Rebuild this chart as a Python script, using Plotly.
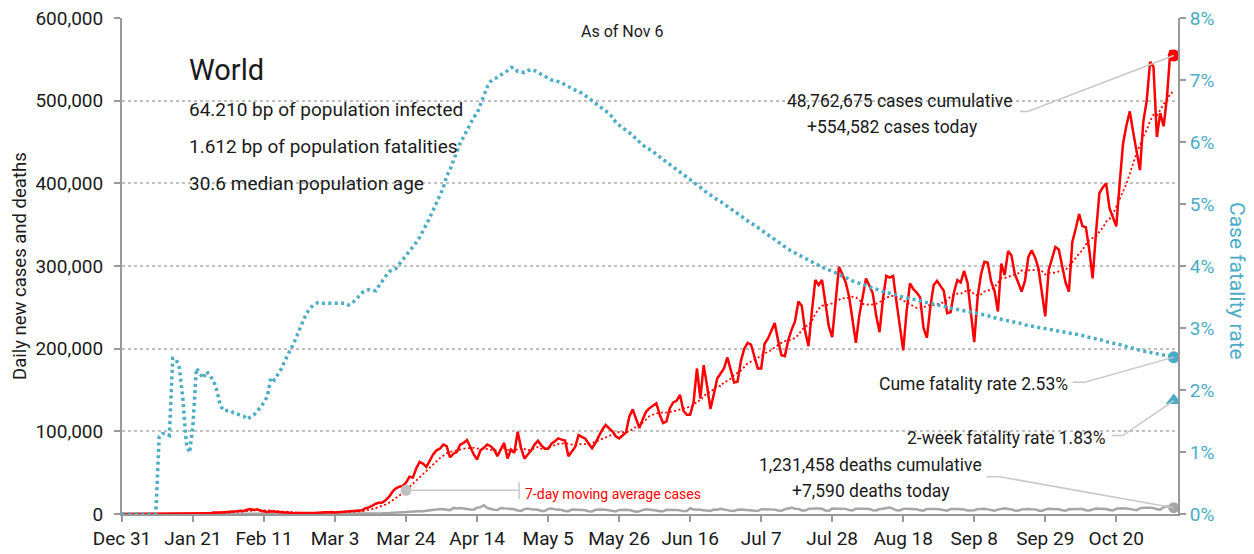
import pandas as pd
import plotly.graph_objects as go

# daily values, one entry per day starting Dec 31 2019 (7 per row = one week)
start_date = "2019-12-31"

new_cases = [
    0, 0, 0, 17, 0, 15, 0,
    0, 0, 0, 0, 1, 0, 1,
    17, 0, 4, 17, 136, 19, 151,
    140, 97, 259, 441, 665, 787, 1753,
    1466, 1740, 1980, 2102, 2590, 2829, 3235,
    3884, 3694, 5200, 6100, 4800, 5600, 3900,
    3600, 2500, 3300, 2800, 2100, 2000, 1900,
    1800, 1200, 800, 1100, 950, 1100, 1400,
    1100, 1300, 1700, 1900, 2000, 2000, 2400,
    1800, 2100, 2400, 2800, 2700, 3800, 3900,
    4100, 4500, 7000, 8000, 10000, 12500, 13500,
    14000, 17000, 21000, 27000, 31000, 33000, 34000,
    38000, 45000, 44000, 55000, 63000, 61000, 57000,
    64000, 72000, 77000, 79000, 84000, 82000, 68500,
    73000, 75000, 84000, 86000, 89500, 81000, 72000,
    66000, 77000, 80000, 84000, 82000, 78000, 70000,
    78000, 86000, 67000, 78000, 74000, 99500, 80000,
    67000, 72000, 77000, 84000, 88700, 83000, 79000,
    79000, 85000, 88000, 91500, 90000, 89000, 70000,
    75000, 81000, 95500, 93000, 91000, 85000, 79500,
    86000, 95000, 102000, 107700, 104000, 100000, 94000,
    91500, 95000, 98400, 117700, 126600, 115000, 104000,
    115000, 124000, 128000, 131000, 134000, 120000, 110000,
    112000, 128000, 135000, 137000, 144000, 125000, 120000,
    120000, 135000, 176000, 140000, 180000, 155000, 127000,
    145000, 164000, 170000, 176000, 189500, 175000, 159000,
    160000, 185000, 200000, 207000, 205000, 190000, 176000,
    176000, 206000, 212000, 222000, 231000, 210000, 192000,
    191000, 210000, 223000, 233000, 257000, 252000, 221000,
    203000, 245000, 283000, 277000, 283000, 255000, 227000,
    214000, 260000, 299000, 290000, 280000, 263000, 235000,
    207000, 240000, 265000, 285000, 276000, 267000, 240000,
    220000, 260000, 288000, 286000, 288000, 257000, 225000,
    198000, 245000, 279000, 272000, 268000, 262000, 225000,
    213000, 250000, 277000, 282000, 276000, 270000, 243000,
    244000, 268000, 283000, 280000, 294000, 280000, 245000,
    208000, 262000, 290000, 305000, 304000, 281000, 270000,
    245000, 303000, 289000, 318000, 313000, 290000, 280000,
    269000, 282000, 311000, 319000, 310000, 297000, 270000,
    239000, 295000, 310000, 323000, 320000, 300000, 280000,
    269000, 329000, 345000, 363000, 348000, 347000, 320000,
    285000, 340000, 388000, 395000, 400000, 370000, 360000,
    348000, 400000, 448000, 470000, 487000, 462000, 440000,
    416000, 475000, 500000, 547000, 541000, 456000, 485000,
    469000, 505000, 561000, 554582,
]

new_deaths = [
    0, 0, 0, 0, 0, 0, 0,
    0, 0, 0, 0, 1, 0, 0,
    0, 0, 0, 0, 0, 1, 2,
    3, 9, 8, 16, 14, 26, 25,
    26, 38, 43, 46, 45, 57, 64,
    66, 73, 73, 86, 89, 97, 108,
    97, 254, 121, 143, 142, 106, 98,
    139, 115, 118, 109, 97, 150, 71,
    52, 29, 44, 37, 59, 70, 65,
    83, 99, 103, 104, 101, 226, 209,
    274, 324, 363, 348, 440, 573, 584,
    820, 1011, 1103, 1690, 1724, 2025, 2234,
    2410, 2767, 3180, 3533, 3383, 3449, 4052,
    4858, 5003, 5980, 6150, 5617, 4764, 4710,
    7340, 6590, 7160, 7017, 6042, 5480, 5240,
    7650, 8290, 10500, 7200, 6350, 5080, 4810,
    7260, 6800, 6500, 6400, 5800, 4200, 3800,
    5900, 6500, 5600, 5300, 5100, 3700, 3600,
    6000, 6500, 5700, 5400, 4900, 3600, 3400,
    5400, 5500, 5200, 4900, 4500, 3300, 3100,
    5100, 5300, 5500, 5200, 4500, 3400, 3100,
    4900, 5200, 5000, 4800, 4100, 2800, 3200,
    4900, 5600, 5300, 5000, 4300, 3300, 3400,
    5100, 5300, 5100, 4900, 4400, 3500, 3600,
    6900, 5300, 5400, 5000, 4600, 3700, 3600,
    5400, 5200, 6300, 5400, 4700, 3800, 3600,
    5100, 5500, 5200, 5400, 4700, 3900, 3600,
    5800, 5600, 5600, 5700, 5300, 4200, 3900,
    5700, 6800, 7400, 6400, 6200, 4300, 4100,
    6200, 6700, 6800, 6700, 6300, 4300, 4000,
    6700, 6600, 6800, 6900, 6200, 4700, 4200,
    6400, 6500, 7000, 6400, 6100, 4600, 4300,
    6000, 6300, 7200, 7900, 6200, 4500, 4300,
    6200, 6500, 6300, 6100, 5800, 4400, 4100,
    6100, 6300, 6100, 6000, 5500, 4300, 4000,
    6000, 6200, 6000, 5700, 5400, 4100, 3900,
    4600, 5900, 6400, 6200, 5600, 4400, 4100,
    5300, 6000, 7000, 6000, 5600, 4200, 3900,
    5600, 6300, 6100, 5800, 5600, 4300, 3800,
    5400, 6200, 6000, 5900, 5700, 4500, 4000,
    5700, 6100, 6200, 6000, 5900, 4600, 4300,
    5900, 6700, 6500, 6200, 6100, 4800, 4200,
    6300, 7000, 6900, 6600, 6400, 5300, 4600,
    6800, 7500, 7800, 7500, 7200, 5600, 5300,
    8100, 9300, 8900, 7590,
]

# cumulative case fatality rate, percent
cfr_pct = [
    0, 0, 0, 0, 0, 0, 0,
    0, 0, 0, 0, 1.25, 1.30, 1.30,
    1.27, 2.51, 2.50, 2.35, 1.85, 1.15, 0.99,
    1.45, 2.35, 2.27, 2.19, 2.30, 2.24, 2.16,
    2.00, 1.76, 1.67, 1.67, 1.67, 1.63, 1.61,
    1.60, 1.58, 1.53, 1.56, 1.60, 1.66, 1.72,
    1.80, 1.90, 2.20, 2.16, 2.25, 2.33, 2.45,
    2.55, 2.67, 2.78, 2.92, 3.05, 3.17, 3.27,
    3.34, 3.38, 3.41, 3.40, 3.40, 3.41, 3.40,
    3.41, 3.41, 3.41, 3.40, 3.37, 3.40, 3.45,
    3.52, 3.57, 3.60, 3.62, 3.61, 3.60, 3.68,
    3.77, 3.84, 3.91, 3.93, 3.96, 4.03, 4.10,
    4.15, 4.22, 4.30, 4.38, 4.46, 4.56, 4.67,
    4.78, 4.90, 5.02, 5.14, 5.26, 5.45, 5.55,
    5.70, 5.85, 5.98, 6.08, 6.18, 6.30, 6.40,
    6.46, 6.62, 6.75, 6.89, 6.98, 7.02, 7.04,
    7.08, 7.11, 7.15, 7.20, 7.20, 7.14, 7.13,
    7.12, 7.15, 7.17, 7.15, 7.12, 7.08, 7.05,
    7.02, 7.00, 6.99, 6.97, 6.96, 6.92, 6.89,
    6.86, 6.84, 6.81, 6.79, 6.75, 6.71, 6.66,
    6.63, 6.59, 6.55, 6.51, 6.46, 6.40, 6.32,
    6.27, 6.23, 6.20, 6.16, 6.11, 6.05, 5.99,
    5.95, 5.91, 5.88, 5.85, 5.80, 5.76, 5.72,
    5.68, 5.64, 5.60, 5.56, 5.52, 5.48, 5.44,
    5.40, 5.36, 5.31, 5.27, 5.22, 5.18, 5.14,
    5.11, 5.07, 5.04, 5.00, 4.96, 4.92, 4.88,
    4.84, 4.80, 4.77, 4.73, 4.69, 4.66, 4.62,
    4.58, 4.54, 4.50, 4.46, 4.42, 4.38, 4.35,
    4.31, 4.27, 4.24, 4.21, 4.18, 4.15, 4.12,
    4.09, 4.06, 4.03, 4.01, 3.98, 3.96, 3.94,
    3.91, 3.89, 3.86, 3.84, 3.81, 3.79, 3.76,
    3.74, 3.72, 3.70, 3.68, 3.66, 3.64, 3.62,
    3.61, 3.59, 3.57, 3.56, 3.55, 3.53, 3.51,
    3.50, 3.49, 3.47, 3.46, 3.45, 3.44, 3.42,
    3.41, 3.40, 3.39, 3.38, 3.37, 3.35, 3.34,
    3.32, 3.31, 3.29, 3.28, 3.27, 3.26, 3.26,
    3.25, 3.24, 3.22, 3.21, 3.20, 3.18, 3.16,
    3.15, 3.14, 3.13, 3.11, 3.10, 3.09, 3.08,
    3.07, 3.05, 3.04, 3.03, 3.03, 3.01, 3.00,
    2.99, 2.98, 2.97, 2.96, 2.95, 2.94, 2.93,
    2.92, 2.91, 2.90, 2.89, 2.88, 2.86, 2.85,
    2.84, 2.82, 2.81, 2.80, 2.78, 2.77, 2.76,
    2.74, 2.73, 2.72, 2.70, 2.69, 2.67, 2.66,
    2.64, 2.63, 2.62, 2.61, 2.59, 2.58, 2.57,
    2.56, 2.55, 2.54, 2.53,
]

two_week_cfr_pct = 1.83

header_lines = ["64.210 bp of population infected",
                "1.612 bp of population fatalities",
                "30.6 median population age"]

RED = "#ff0000"
TEAL = "#4bacc6"
GREY = "#a6a6a6"
LEADER = "#c8c8c8"
AXIS = "#999999"
TEXT = "#1a1a1a"
FONT = "Roboto"

# the page body has an 8px margin, so the figure is drawn 8px smaller
PAGE_PAD = 8

dates = pd.date_range(start_date, periods=len(new_cases), freq="D")
ma7 = pd.Series(new_cases).rolling(7).mean()
last = dates[-1]

fig = go.Figure()

fig.add_trace(go.Scatter(x=dates, y=new_deaths, mode="lines",
                         line=dict(color=GREY, width=2.5), hoverinfo="skip"))
fig.add_trace(go.Scatter(x=dates, y=ma7, mode="lines",
                         line=dict(color=RED, width=1.8, dash="2px,2.5px"), hoverinfo="skip"))
fig.add_trace(go.Scatter(x=dates, y=new_cases, mode="lines",
                         line=dict(color=RED, width=2.5), hoverinfo="skip"))

# marker on the moving average, where the label points to
ma_idx = 84
fig.add_trace(go.Scatter(x=[dates[ma_idx]], y=[ma7[ma_idx]], mode="markers",
                         marker=dict(color="#bfbfbf", size=11), hoverinfo="skip"))

# end-point markers
fig.add_trace(go.Scatter(x=[last], y=[new_cases[-1]], mode="markers",
                         marker=dict(color=RED, size=12), hoverinfo="skip"))
fig.add_trace(go.Scatter(x=[last], y=[new_deaths[-1]], mode="markers",
                         marker=dict(color=GREY, size=11), hoverinfo="skip"))

fig.add_trace(go.Scatter(x=dates, y=cfr_pct, mode="lines", yaxis="y2",
                         line=dict(color=TEAL, width=3.5, dash="3px,3.4px"), hoverinfo="skip"))
fig.add_trace(go.Scatter(x=[last], y=[cfr_pct[-1]], mode="markers", yaxis="y2",
                         marker=dict(color=TEAL, size=12), hoverinfo="skip"))
fig.add_trace(go.Scatter(x=[last], y=[two_week_cfr_pct], mode="markers", yaxis="y2",
                         marker=dict(color=TEAL, size=14, symbol="triangle-up"), hoverinfo="skip"))


def leader(xanchor, yanchor, path, yref="y"):
    # leader line drawn in pixel offsets from a data point
    fig.add_shape(type="path", xref="x", yref=yref, xsizemode="pixel", ysizemode="pixel",
                  xanchor=xanchor, yanchor=yanchor, path=path,
                  line=dict(color=LEADER, width=1.5), layer="above")


def label(x, y, text, yref="y", xshift=0, yshift=0, xanchor="center", size=17.5, color=TEXT):
    fig.add_annotation(x=x, y=y, xref="x", yref=yref, text=text, showarrow=False,
                       xshift=xshift, yshift=yshift, xanchor=xanchor, yanchor="middle",
                       font=dict(family=FONT, size=size, color=color))


# cases
leader(last, new_cases[-1], "M -154,-56 L -146,-56 L 0,0")
label(last, new_cases[-1], "48,762,675 cases cumulative", xshift=-274, yshift=-45)
label(last, new_cases[-1], "+554,582 cases today", xshift=-281, yshift=-71)
# cume fatality
leader(last, cfr_pct[-1], "M -101,-25 L -89,-25 L 0,0", yref="y2")
label(last, cfr_pct[-1], "Cume fatality rate 2.53%", yref="y2", xshift=-104, yshift=-27, xanchor="right")
# 2-week fatality
leader(last, two_week_cfr_pct, "M -62,-35 L -51,-35 L 0,0", yref="y2")
label(last, two_week_cfr_pct, "2-week fatality rate 1.83%", yref="y2", xshift=-66, yshift=-37, xanchor="right")
# deaths
leader(last, new_deaths[-1], "M -187,31 L -174,31 L 0,0")
label(last, new_deaths[-1], "1,231,458 deaths cumulative", xshift=-303, yshift=43)
label(last, new_deaths[-1], "+7,590 deaths today", xshift=-303, yshift=17)
# moving average label
leader(dates[ma_idx], ma7[ma_idx], "M 0,0 L 113,0 M 113,8 L 113,-9")
label(dates[ma_idx], ma7[ma_idx], "7-day moving average cases", xshift=117, yshift=-4,
      xanchor="left", size=14, color=RED)


def paper_note(px, py, text, size, xanchor="left", color=TEXT, angle=0):
    # px, py: position in the 1254x554 picture; plot area is 122..1178 x 18..514
    fig.add_annotation(x=(px - 122) / 1056, y=(514 - py) / 496, xref="paper", yref="paper",
                       text=text, showarrow=False, xanchor=xanchor, yanchor="middle",
                       textangle=angle, font=dict(family=FONT, size=size, color=color))


paper_note(622, 31, "As of Nov 6", 16, xanchor="center")
paper_note(187, 70, "World", 29)
for i, line in enumerate(header_lines):
    paper_note(187, 109 + 37 * i, line, 19)
paper_note(20, 266, "Daily new cases and deaths", 18.5, xanchor="center", angle=-90)
paper_note(1237, 281, "Case fatality rate", 21, xanchor="center", color=TEAL, angle=90)

fig.update_layout(
    width=1254 - PAGE_PAD, height=554 - PAGE_PAD,
    margin=dict(l=122 - PAGE_PAD, r=76, t=18 - PAGE_PAD, b=40),
    plot_bgcolor="white", paper_bgcolor="white",
    showlegend=False,
    font=dict(family=FONT, size=18, color=TEXT),
    xaxis=dict(
        type="date", automargin=False,
        range=["2019-12-31", "2020-11-07 06:00"],
        tick0="2019-12-31", dtick=21 * 24 * 3600 * 1000, tickformat="%b %-d",
        showgrid=False, showline=True, linecolor=AXIS, linewidth=2,
        ticks="outside", ticklen=6, tickwidth=2, tickcolor=AXIS,
        tickfont=dict(size=19, color=TEXT), zeroline=False,
    ),
    yaxis=dict(
        automargin=False, ticklabeloverflow="allow",
        range=[0, 600000], dtick=100000, tickformat=",",
        showgrid=True, gridcolor="#c0c0c0", griddash="dot", gridwidth=1.5,
        showline=True, linecolor=AXIS, linewidth=2,
        ticks="outside", ticklen=6, tickwidth=2, tickcolor=AXIS, ticklabelstandoff=7,
        tickfont=dict(size=19, color=TEXT), zeroline=False,
    ),
    yaxis2=dict(
        automargin=False, ticklabeloverflow="allow",
        range=[0, 8], dtick=1, ticksuffix="%", overlaying="y", side="right",
        showgrid=False, showline=True, linecolor=AXIS, linewidth=2,
        ticks="outside", ticklen=6, tickwidth=2, tickcolor=AXIS,
        tickfont=dict(size=19, color=TEAL), zeroline=False,
    ),
)

fig.write_html("out.html")
